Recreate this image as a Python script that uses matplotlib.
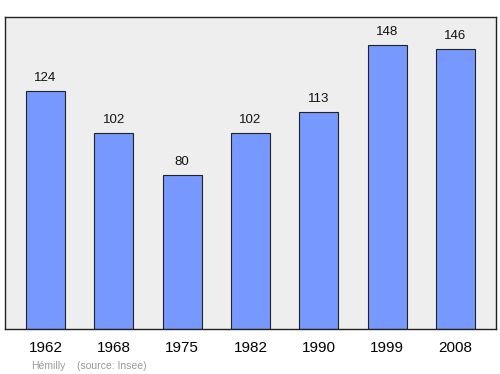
import matplotlib
matplotlib.use("Agg")
import matplotlib.pyplot as plt
import numpy as np

plt.rcParams["font.family"] = ["Liberation Sans", "DejaVu Sans"]

# Population data
YEARS = ["1962", "1968", "1975", "1982", "1990", "1999", "2008"]
POPULATION = [124, 102, 80, 102, 113, 148, 146]

BAR_COLOR = "#7799ff"
BG_COLOR = "#eeeeee"

fig = plt.figure(figsize=(5.0, 3.74), dpi=100)
ax = fig.add_axes([0.01, 0.1203, 0.982, 0.8342])
ax.set_facecolor(BG_COLOR)

x = np.arange(len(YEARS))
ax.bar(x, POPULATION, width=0.575, color=BAR_COLOR, edgecolor="#222222", linewidth=0.8)

for xi, val in zip(x, POPULATION):
    ax.text(xi, val + 6.8, str(val), ha="center", va="center", fontsize=9.5, color="#111111")

ax.set_xlim(-0.593, 6.593)
ax.set_ylim(0, 162.5)
ax.set_xticks(x)
ax.set_xticklabels(YEARS, fontsize=11)
ax.tick_params(axis="x", length=0, pad=8.5)
ax.set_yticks([])
for spine in ax.spines.values():
    spine.set_color("#222222")
    spine.set_linewidth(1.0)

fig.text(0.062, 0.013, "Hémilly", fontsize=7.5, color="#999999")
fig.text(0.154, 0.013, "(source: Insee)", fontsize=7.5, color="#999999")

fig.savefig("out.png", dpi=100)
plt.close(fig)
